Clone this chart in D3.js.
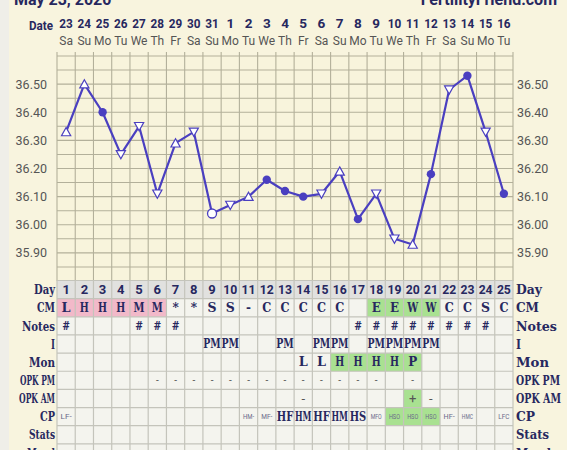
<!DOCTYPE html>
<html><head><meta charset="utf-8">
<script src="https://cdn.jsdelivr.net/npm/d3@7"></script>
<style>
html,body{margin:0;padding:0;background:#f8f4de;overflow:hidden;}
svg{display:block;}
</style></head>
<body>
<svg id="c" width="567" height="450"></svg>
<script>
const days = d3.range(1, 26);
const dates = ["23","24","25","26","27","28","29","30","31","1","2","3","4","5","6","7","8","9","10","11","12","13","14","15","16"];
const weekdays = ["Sa","Su","Mo","Tu","We","Th","Fr","Sa","Su","Mo","Tu","We","Th","Fr","Sa","Su","Mo","Tu","We","Th","Fr","Sa","Su","Mo","Tu"];
const temps = [36.33,36.50,36.40,36.25,36.35,36.11,36.29,36.33,36.04,36.07,36.10,36.16,36.12,36.10,36.11,36.19,36.02,36.11,35.95,35.93,36.18,36.48,36.53,36.33,36.11];
const markers = ["up","up","fill","down","down","down","up","down","open","down","up","fill","fill","fill","down","up","fill","down","down","up","fill","down","fill","down","fill"];
const yTicks = [35.90,36.00,36.10,36.20,36.30,36.40,36.50];

const cmRow = ["L","H","H","H","M","M","*","*","S","S","-","C","C","C","C","C","","E","E","W","W","C","C","S","C"];
const cmBg  = ["p","p","p","p","p","p","","","","","","","","","","","","g","g","g","g","","","",""];
const notesRow = ["#","","","","#","#","#","","","","","","","","","","#","#","#","#","#","#","#","#",""];
const iRow = ["","","","","","","","","PM","PM","","","PM","","PM","PM","","PM","PM","PM","PM","","","",""];
const monRow = ["","","","","","","","","","","","","","L","L","H","H","H","H","P","","","","",""];
const monBg  = ["","","","","","","","","","","","","","","","g","g","g","g","g","","","","",""];
const opkPmRow = ["","","","","","-","-","-","-","-","-","-","-","-","-","-","-","-","","-","","","","",""];
const opkAmRow = ["","","","","","","","","","","","","","-","","","","","","+","-","","","",""];
const opkAmBg  = ["","","","","","","","","","","","","","","","","","","","g","","","","",""];
const cpRow = ["LF-","","","","","","","","","","HM-","MF-","HF","HM","HF","HM","HS","MFO","HSO","HSO","HSO","HF-","HMC","","LFC"];
const cpBold = ["","","","","","","","","","","","","b","b","b","b","b","","","","","","","",""];
const cpBg  = ["","","","","","","","","","","","","","","","","","","g","g","g","","","",""];
const rowLabels = ["Day","CM","Notes","I","Mon","OPK PM","OPK AM","CP","Stats","Mood"];
const leftLabelWidths = [21,18,33,4,26,35,36,15,26,28];

const svg = d3.select("#c");
const navy = "#27285f";
const lineCol = "#4a3fc0";
const slab = "'DejaVu Serif', 'Liberation Serif', serif";
const sans = "Roboto, 'Noto Sans', sans-serif";

svg.append("rect").attr("x",0).attr("y",0).attr("width",567).attr("height",450).attr("fill","#f8f4de");
svg.append("rect").attr("x",0).attr("y",0).attr("width",9).attr("height",450).attr("fill","#efeee8");

const x = d3.scaleBand().domain(days).range([57, 513]).padding(0);
const y = d3.scaleLinear().domain([35.80, 36.60]).range([281, 56]);

// header
svg.append("text").attr("x",14).attr("y",5).attr("font-family",sans).attr("font-weight","bold")
  .attr("font-size",16).attr("fill",navy).text("May 23, 2020");
svg.append("text").attr("x",557).attr("y",5).attr("text-anchor","end").attr("font-family",sans).attr("font-weight","bold")
  .attr("font-size",16).attr("fill",navy).text("FertilityFriend.com");
svg.append("text").attr("x",53).attr("y",30).attr("text-anchor","end").attr("font-family",sans).attr("font-weight","bold")
  .attr("font-size",13).attr("fill",navy).attr("textLength",24).attr("lengthAdjust","spacingAndGlyphs").text("Date");

svg.append("g").selectAll("text").data(days).join("text")
  .attr("x", d => x(d) + x.bandwidth()/2).attr("y", 27.5).attr("text-anchor","middle")
  .attr("font-family",sans).attr("font-weight","bold").attr("font-size",13.5).attr("fill",navy)
  .attr("textLength", (d,i) => dates[i].length > 1 ? 13.5 : null).attr("lengthAdjust","spacingAndGlyphs")
  .text((d,i) => dates[i]);
svg.append("g").selectAll("text").data(days).join("text")
  .attr("x", d => x(d) + x.bandwidth()/2).attr("y", 45).attr("text-anchor","middle")
  .attr("font-family",sans).attr("font-size",12).attr("fill","#555")
  .text((d,i) => weekdays[i]);

// plot area
svg.append("rect").attr("x",57).attr("y",56).attr("width",456).attr("height",225).attr("fill","#f8f4dc");
const gridCol = "#b3b09a";
const hLines = d3.range(0, 17).map(k => 35.80 + k*0.05);
svg.append("g").selectAll("line").data(hLines).join("line")
  .attr("x1",57).attr("x2",513).attr("y1", d => y(d)).attr("y2", d => y(d))
  .attr("stroke",gridCol).attr("stroke-width",1.1);
svg.append("g").selectAll("line").data(d3.range(0,26)).join("line")
  .attr("x1", k => 57 + k*x.bandwidth()).attr("x2", k => 57 + k*x.bandwidth())
  .attr("y1",52).attr("y2",281).attr("stroke",gridCol).attr("stroke-width",1.1);

// y axes
const yl = svg.append("g").attr("transform","translate(50,0)")
  .call(d3.axisLeft(y).tickValues(yTicks).tickSize(0).tickPadding(3).tickFormat(d3.format(".2f")));
yl.select(".domain").remove();
yl.selectAll("text").attr("font-family",sans).attr("font-size",12.5).attr("fill","#555");
const yr = svg.append("g").attr("transform","translate(514,0)")
  .call(d3.axisRight(y).tickValues(yTicks).tickSize(0).tickPadding(3).tickFormat(d3.format(".2f")));
yr.select(".domain").remove();
yr.selectAll("text").attr("font-family",sans).attr("font-size",12.5).attr("fill","#555");

// line
const pts = days.map((d,i) => ({d, v: temps[i], m: markers[i]}));
svg.append("path").datum(pts)
  .attr("d", d3.line().x(p => x(p.d) + x.bandwidth()/2).y(p => y(p.v)))
  .attr("fill","none").attr("stroke",lineCol).attr("stroke-width",2.2).attr("stroke-linejoin","round");
const mk = svg.append("g");
pts.forEach(p => {
  const cx = x(p.d) + x.bandwidth()/2, cy = y(p.v);
  if (p.m === "fill") {
    mk.append("circle").attr("cx",cx).attr("cy",cy).attr("r",4.2).attr("fill",lineCol);
  } else if (p.m === "open") {
    mk.append("circle").attr("cx",cx).attr("cy",cy).attr("r",4.5).attr("fill","#fff").attr("stroke",lineCol).attr("stroke-width",1.3);
  } else {
    const s = 4.6, h = 7.6;
    const pth = p.m === "up"
      ? `M${cx},${cy-h/2-0.6}L${cx+s},${cy+h/2}L${cx-s},${cy+h/2}Z`
      : `M${cx-s},${cy-h/2}L${cx+s},${cy-h/2}L${cx},${cy+h/2+0.6}Z`;
    mk.append("path").attr("d",pth).attr("fill","#fff").attr("stroke",lineCol).attr("stroke-width",1.2);
  }
});

// table
const t0 = 280.5, rh = 18.15;
const nRows = rowLabels.length;
svg.append("rect").attr("x",57).attr("y",t0).attr("width",456).attr("height",rh*nRows).attr("fill","#f4f4ee");
svg.append("rect").attr("x",57).attr("y",t0).attr("width",456).attr("height",rh).attr("fill","#e1e1df");
const pink = "#f2b9c9", green = "#a9e191";
function bgRow(row, bg) {
  svg.append("g").selectAll("rect").data(days.filter((d,i) => bg[i])).join("rect")
    .attr("x", d => x(d)).attr("y", t0 + row*rh).attr("width", x.bandwidth()).attr("height", rh)
    .attr("fill", d => bg[d-1] === "p" ? pink : green);
}
bgRow(1, cmBg); bgRow(4, monBg); bgRow(6, opkAmBg); bgRow(7, cpBg);

const tGrid = "#c4c4bb";
svg.append("g").selectAll("line").data(d3.range(0, nRows+1)).join("line")
  .attr("x1",57).attr("x2",513).attr("y1", k => t0 + k*rh).attr("y2", k => t0 + k*rh)
  .attr("stroke",tGrid).attr("stroke-width",1.2);
svg.append("g").selectAll("line").data(d3.range(0,26)).join("line")
  .attr("x1", k => 57 + k*x.bandwidth()).attr("x2", k => 57 + k*x.bandwidth())
  .attr("y1",t0).attr("y2",t0 + rh*nRows).attr("stroke",tGrid).attr("stroke-width",1.2);

const cy = r => t0 + r*rh + rh/2;
svg.append("g").selectAll("text").data(days).join("text")
  .attr("x", d => x(d) + x.bandwidth()/2).attr("y", cy(0)).attr("dy","0.36em").attr("text-anchor","middle")
  .attr("font-family",sans).attr("font-weight","bold").attr("font-size",13).attr("fill",navy)
  .attr("textLength", d => d >= 10 ? 14 : null).attr("lengthAdjust","spacingAndGlyphs").text(d => d);

function textRow(row, arr, opts) {
  svg.append("g").selectAll("text").data(days.filter((d,i) => arr[i])).join("text")
    .attr("x", d => x(d) + x.bandwidth()/2).attr("y", cy(row)).attr("dy", opts.dy || "0.36em").attr("text-anchor","middle")
    .attr("font-family", opts.font || slab).attr("font-weight", opts.weight || "bold")
    .attr("font-size", opts.size || 12).attr("fill", opts.color || navy)
    .attr("textLength", opts.tl ? (d => opts.tl(arr[d-1], d)) : null).attr("lengthAdjust","spacingAndGlyphs")
    .text(d => arr[d-1]);
}
textRow(1, cmRow, {size: 12, tl: v => (v === "*" || v === "-") ? null : (v === "M" || v === "W" ? 11 : 9)});
textRow(2, notesRow, {size: 12, font: sans});
textRow(3, iRow, {size: 12, tl: () => 17.5});
textRow(4, monRow, {size: 12, tl: () => 9});
textRow(5, opkPmRow, {size: 10, font: sans, weight: "normal", color: "#555"});
textRow(6, opkAmRow, {size: 13, font: sans, weight: "normal", color: "#555"});
const cpBigArr = cpRow.map((v,i) => cpBold[i] ? v : "");
const cpSmallArr = cpRow.map((v,i) => cpBold[i] ? "" : v);
textRow(7, cpBigArr, {size: 13, tl: () => 16.5});
textRow(7, cpSmallArr, {size: 6.5, font: sans, weight: "normal", color: "#6a6a8a", tl: v => v.length * 3.7});

// row labels
svg.append("g").selectAll("text").data(rowLabels).join("text")
  .attr("x",55).attr("y",(d,i) => cy(i)).attr("dy","0.36em").attr("text-anchor","end")
  .attr("font-family",slab).attr("font-weight","bold").attr("font-size",13).attr("fill",navy)
  .attr("textLength",(d,i) => leftLabelWidths[i]).attr("lengthAdjust","spacingAndGlyphs").text(d => d);
svg.append("g").selectAll("text").data(rowLabels).join("text")
  .attr("x",516).attr("y",(d,i) => cy(i)).attr("dy","0.36em").attr("text-anchor","start")
  .attr("font-family",slab).attr("font-weight","bold").attr("font-size",13).attr("fill",navy)
  .attr("textLength",(d,i) => Math.round(leftLabelWidths[i]*1.25)).attr("lengthAdjust","spacingAndGlyphs").text(d => d);
</script>
</body></html>
